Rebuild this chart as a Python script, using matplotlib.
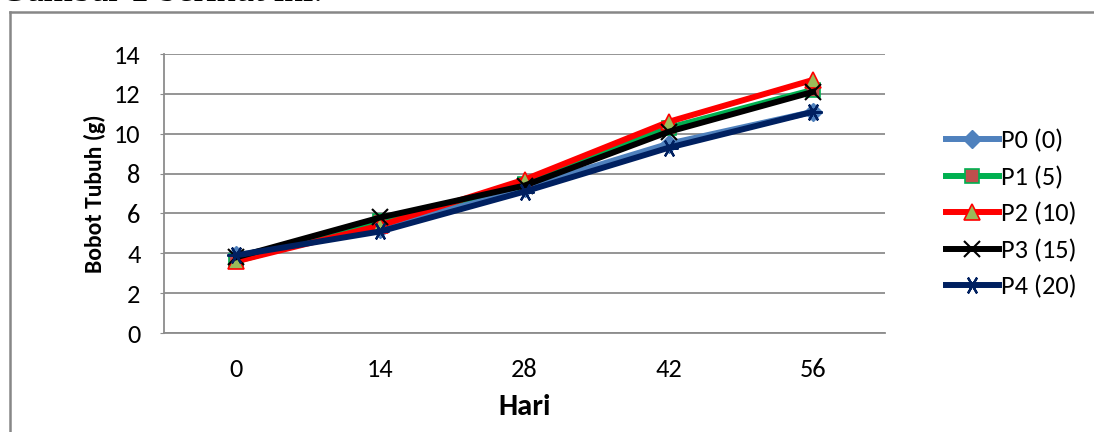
import matplotlib.pyplot as plt
from matplotlib.lines import Line2D

# data
hari = [0, 14, 28, 42, 56]
p0 = [3.9, 5.2, 7.3, 9.5, 11.1]
p1 = [3.6, 5.6, 7.5, 10.3, 12.2]
p2 = [3.6, 5.4, 7.7, 10.6, 12.7]
p3 = [3.8, 5.8, 7.4, 10.1, 12.1]
p4 = [3.9, 5.1, 7.1, 9.3, 11.1]
labels = ['P0 (0)', 'P1 (5)', 'P2 (10)', 'P3 (15)', 'P4 (20)']

plt.rcParams['font.family'] = ['Carlito', 'Lato', 'DejaVu Sans']

fig = plt.figure(figsize=(10.94, 4.32), dpi=100)
ax = fig.add_axes([0.150, 0.229, 0.659, 0.646])

x = list(range(len(hari)))
lw = 4.3
ax.plot(x, p0, color='#4F81BD', lw=lw, marker='D', ms=9,
        mfc='#4F81BD', mec='#4F81BD', label=labels[0])
ax.plot(x, p1, color='#00B050', lw=lw, marker='s', ms=10,
        mfc='#C0504D', mec='#00B050', mew=1.2, label=labels[1])
ax.plot(x, p2, color='#FF0000', lw=lw, marker='^', ms=11,
        mfc='#9BBB59', mec='#FF0000', mew=1.2, label=labels[2])
ax.plot(x, p3, color='#000000', lw=lw, marker='x', ms=11,
        mew=1.5, label=labels[3])
ax.plot(x, p4, color='#002060', lw=lw, marker=(6, 2, 90), ms=13,
        mew=1.6, mec='#002060', label=labels[4])

ax.set_xlim(-0.5, len(hari) - 0.5)
ax.set_ylim(0, 14)
ax.set_yticks(range(0, 15, 2))
ax.set_xticks(x)
ax.set_xticklabels([str(h) for h in hari])
ax.yaxis.grid(True, color='#8C8C8C', lw=1.3)
ax.set_axisbelow(True)
for s in ['top', 'right']:
    ax.spines[s].set_visible(False)
for s in ['left', 'bottom']:
    ax.spines[s].set_color('#8C8C8C')
    ax.spines[s].set_linewidth(1.3)
ax.tick_params(axis='y', length=3, color='#8C8C8C', labelsize=19, pad=14)
ax.tick_params(axis='x', length=0, labelsize=19, pad=18)

ax.set_xlabel('Hari', fontsize=22, fontweight='bold', labelpad=9)
ax.set_ylabel('Bobot Tubuh (g)', fontsize=17, fontweight='bold', labelpad=6)

ax.legend(loc='center left', bbox_to_anchor=(0.855, 0.505),
          bbox_transform=fig.transFigure, frameon=False, fontsize=19,
          handlelength=2.0, handletextpad=0.1, labelspacing=0.5,
          borderaxespad=0)

# frame around the chart and caption text above it
fig.add_artist(Line2D([10 / 1094, 10 / 1094], [0, 1 - 12 / 432],
                      color='#878787', lw=1.8, transform=fig.transFigure))
fig.add_artist(Line2D([10 / 1094, 1], [1 - 12 / 432, 1 - 12 / 432],
                      color='#878787', lw=1.8, transform=fig.transFigure))
fig.text(0.0, 1 - 1 / 432, 'Gambar 1 berikut ini.', fontsize=27,
         family='Liberation Serif', va='baseline', ha='left')

fig.savefig('out.png', dpi=100)
